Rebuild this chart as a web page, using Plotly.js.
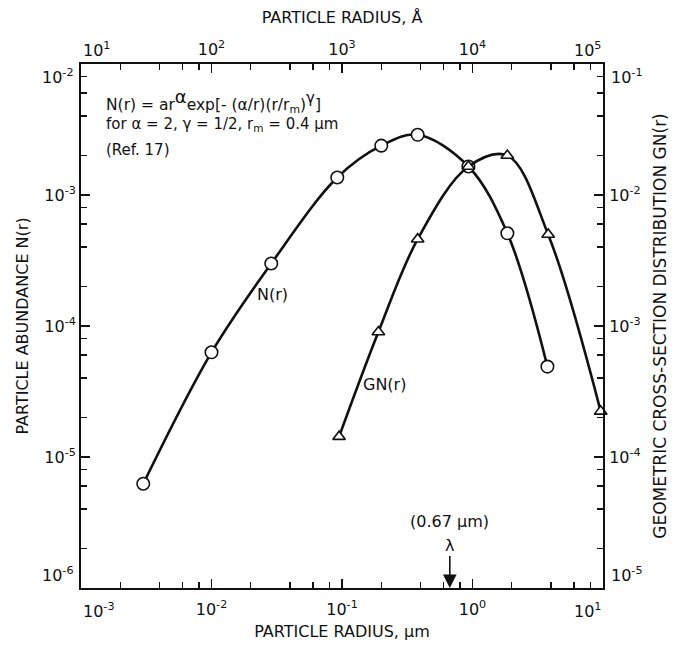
<!DOCTYPE html>
<html>
<head>
<meta charset="utf-8">
<script src="https://cdn.plot.ly/plotly-3.0.1.min.js"></script>
<style>html,body{margin:0;padding:0;background:#fff;}#plot{width:678px;height:645px;}</style>
</head>
<body>
<div id="plot"></div>
<script>
// Particle abundance N(r) (left axis), radius in micrometres
const nRadius = [0.003, 0.01, 0.0287, 0.092, 0.2, 0.38, 0.93, 1.85, 3.75];
const nAbundance = [6.25e-6, 6.3e-5, 3.0e-4, 1.36e-3, 2.38e-3, 2.88e-3, 1.65e-3, 5.1e-4, 4.9e-5];
// Geometric cross-section distribution GN(r) (right axis)
const gnRadius = [0.095, 0.19, 0.38, 0.93, 1.85, 3.8, 9.6];
const gnValue = [1.43e-4, 9.0e-4, 4.6e-3, 1.65e-2, 2.0e-2, 5.0e-3, 2.23e-4];
// Tick values and labels
const bottomTickVals = [1e-3, 1e-2, 1e-1, 1e0, 1e1];
const bottomTickText = ['10<sup>-3</sup>', '10<sup>-2</sup>', '10<sup>-1</sup>', '10<sup>0</sup>', '10<sup>1</sup>'];
const topTickVals = [1e1, 1e2, 1e3, 1e4, 1e5];
const topTickText = ['10<sup>1</sup>', '10<sup>2</sup>', '10<sup>3</sup>', '10<sup>4</sup>', '10<sup>5</sup>'];
const leftTickVals = [1e-6, 1e-5, 1e-4, 1e-3, 1e-2];
const leftTickText = ['10<sup>-6</sup>', '10<sup>-5</sup>', '10<sup>-4</sup>', '10<sup>-3</sup>', '10<sup>-2</sup>'];
const rightTickVals = [1e-5, 1e-4, 1e-3, 1e-2, 1e-1];
const rightTickText = ['10<sup>-5</sup>', '10<sup>-4</sup>', '10<sup>-3</sup>', '10<sup>-2</sup>', '10<sup>-1</sup>'];
const lambdaRadius = 0.67;

function minorVals(lo, hi) {
  const out = [];
  for (let e = lo; e < hi; e++) {
    [2, 4, 6, 8].forEach(m => out.push(m * Math.pow(10, e)));
  }
  return out;
}
// inner labels drawn by the axis, end labels drawn as annotations nudged inside
function innerText(arr) { return arr.map((t, i) => (i === 0 || i === arr.length - 1) ? ' ' : t); }

const FONT = 'DejaVu Sans, Verdana, sans-serif';
const black = '#111';
const tickFont = {family: FONT, size: 16, color: black};
const textFont = {family: FONT, size: 15, color: black};
const labelFont = {family: FONT, size: 16, color: black};
const titleFont = {family: FONT, size: 16, color: black};

const traces = [
  {
    x: nRadius, y: nAbundance, xaxis: 'x', yaxis: 'y',
    mode: 'lines+markers', type: 'scatter',
    line: {color: black, width: 2.6, shape: 'spline', smoothing: 1},
    marker: {symbol: 'circle', size: 12.5, color: '#fff', line: {color: black, width: 1.6}},
    cliponaxis: false, hoverinfo: 'none'
  },
  {
    x: gnRadius, y: gnValue, xaxis: 'x', yaxis: 'y2',
    mode: 'lines+markers', type: 'scatter',
    line: {color: black, width: 2.6, shape: 'spline', smoothing: 1},
    marker: {symbol: 'triangle-up', size: 11, color: '#fff', line: {color: black, width: 1.6}},
    cliponaxis: false, hoverinfo: 'none'
  },
  { x: [], y: [], xaxis: 'x2', yaxis: 'y', type: 'scatter', mode: 'markers', hoverinfo: 'none' }
];

const axisCommon = {
  type: 'log', showgrid: false, zeroline: false, showline: true,
  linecolor: black, linewidth: 2, ticks: 'inside', ticklen: 9, tickwidth: 1.5,
  tickcolor: black, tickmode: 'array', tickfont: tickFont,
  automargin: false, fixedrange: true
};
function minorSpec(lo, hi) {
  return {ticks: 'inside', ticklen: 6, tickwidth: 1.3, tickcolor: black, tickmode: 'array', tickvals: minorVals(lo, hi)};
}

const endLabels = [
  // bottom axis ends
  {xref: 'x', yref: 'paper', x: Math.log10(bottomTickVals[0]), y: 0, xanchor: 'left', yanchor: 'middle', yshift: -22, text: bottomTickText[0]},
  {xref: 'x', yref: 'paper', x: Math.log10(bottomTickVals[4]), y: 0, xanchor: 'right', yanchor: 'middle', yshift: -22, text: bottomTickText[4]},
  // top axis ends
  {xref: 'x', yref: 'paper', x: Math.log10(bottomTickVals[0]), y: 1, xanchor: 'left', yanchor: 'middle', yshift: 15, text: topTickText[0]},
  {xref: 'x', yref: 'paper', x: Math.log10(bottomTickVals[4]), y: 1, xanchor: 'right', yanchor: 'middle', yshift: 15, text: topTickText[4]},
  // left axis ends
  {xref: 'paper', yref: 'y', x: 0, y: Math.log10(leftTickVals[4]), xanchor: 'right', yanchor: 'top', xshift: -5, yshift: 0, text: leftTickText[4]},
  {xref: 'paper', yref: 'y', x: 0, y: Math.log10(leftTickVals[0]), xanchor: 'right', yanchor: 'bottom', xshift: -5, yshift: 1, text: leftTickText[0]},
  // right axis ends
  {xref: 'paper', yref: 'y2', x: 1, y: Math.log10(rightTickVals[4]), xanchor: 'left', yanchor: 'top', xshift: 6, yshift: 0, text: rightTickText[4]},
  {xref: 'paper', yref: 'y2', x: 1, y: Math.log10(rightTickVals[0]), xanchor: 'left', yanchor: 'bottom', xshift: 6, yshift: 1, text: rightTickText[0]}
].map(a => Object.assign({showarrow: false, font: tickFont}, a));

const layout = {
  width: 678, height: 645,
  margin: {l: 81, r: 75, t: 64, b: 57},
  paper_bgcolor: '#fff', plot_bgcolor: '#fff',
  showlegend: false,
  font: {family: FONT, color: black},
  xaxis: Object.assign({}, axisCommon, {
    range: [-3, 1], side: 'bottom', anchor: 'y',
    tickvals: bottomTickVals, ticktext: innerText(bottomTickText), ticklabelstandoff: 6,
    minor: minorSpec(-3, 1),
    title: {text: 'PARTICLE RADIUS, μm', font: titleFont, standoff: 8}
  }),
  xaxis2: Object.assign({}, axisCommon, {
    range: [1, 5], side: 'top', overlaying: 'x', anchor: 'y',
    tickvals: topTickVals, ticktext: innerText(topTickText), ticklabelstandoff: 1,
    minor: minorSpec(1, 5),
    title: {text: 'PARTICLE RADIUS, Å', font: titleFont, standoff: 10}
  }),
  yaxis: Object.assign({}, axisCommon, {
    range: [-6, -2], side: 'left', anchor: 'x',
    tickvals: leftTickVals, ticktext: innerText(leftTickText), ticklabelstandoff: 0,
    minor: minorSpec(-6, -2),
    title: {text: 'PARTICLE ABUNDANCE N(r)', font: {family: FONT, size: 16, color: black}, standoff: 12}
  }),
  yaxis2: Object.assign({}, axisCommon, {
    range: [-5, -1], side: 'right', overlaying: 'y', anchor: 'x',
    tickvals: rightTickVals, ticktext: innerText(rightTickText), ticklabelstandoff: 1,
    minor: minorSpec(-5, -1),
    title: {text: 'GEOMETRIC CROSS-SECTION DISTRIBUTION GN(r)', font: {family: FONT, size: 17, color: black}, standoff: 14}
  }),
  annotations: [
    {xref: 'paper', yref: 'paper', x: 0.045, y: 0.929, xanchor: 'left', yanchor: 'middle', showarrow: false,
     text: 'N(r) = ar<sup><span style="font-size:18px">α</span></sup>exp[- (α/r)(r/r<sub>m</sub>)<sup><span style="font-size:15px">γ</span></sup>]', font: {family: FONT, size: 15.5, color: black}},
    {xref: 'paper', yref: 'paper', x: 0.045, y: 0.884, xanchor: 'left', yanchor: 'middle', showarrow: false,
     text: 'for α = 2, γ = 1/2, r<sub>m</sub> = 0.4 μm', font: textFont},
    {xref: 'paper', yref: 'paper', x: 0.045, y: 0.836, xanchor: 'left', yanchor: 'middle', showarrow: false,
     text: '(Ref. 17)', font: textFont},
    {xref: 'x', yref: 'y', x: Math.log10(0.0291), y: Math.log10(1.73e-4), showarrow: false,
     text: 'N(r)', font: labelFont},
    {xref: 'x', yref: 'y2', x: Math.log10(0.21), y: Math.log10(3.6e-4), showarrow: false,
     text: 'GN(r)', font: labelFont},
    {xref: 'x', yref: 'y', x: Math.log10(lambdaRadius), y: -6, ax: 0, ay: -43,
     showarrow: true, arrowhead: 2, arrowsize: 1.7, arrowwidth: 1.6, arrowcolor: black, standoff: 0, startstandoff: 0,
     text: 'λ', font: labelFont},
    {xref: 'x', yref: 'y', x: Math.log10(lambdaRadius), y: -5.496, showarrow: false,
     text: '(0.67 μm)', font: labelFont}
  ].concat(endLabels)
};

Plotly.newPlot('plot', traces, layout, {displayModeBar: false, staticPlot: true});
</script>
</body>
</html>
